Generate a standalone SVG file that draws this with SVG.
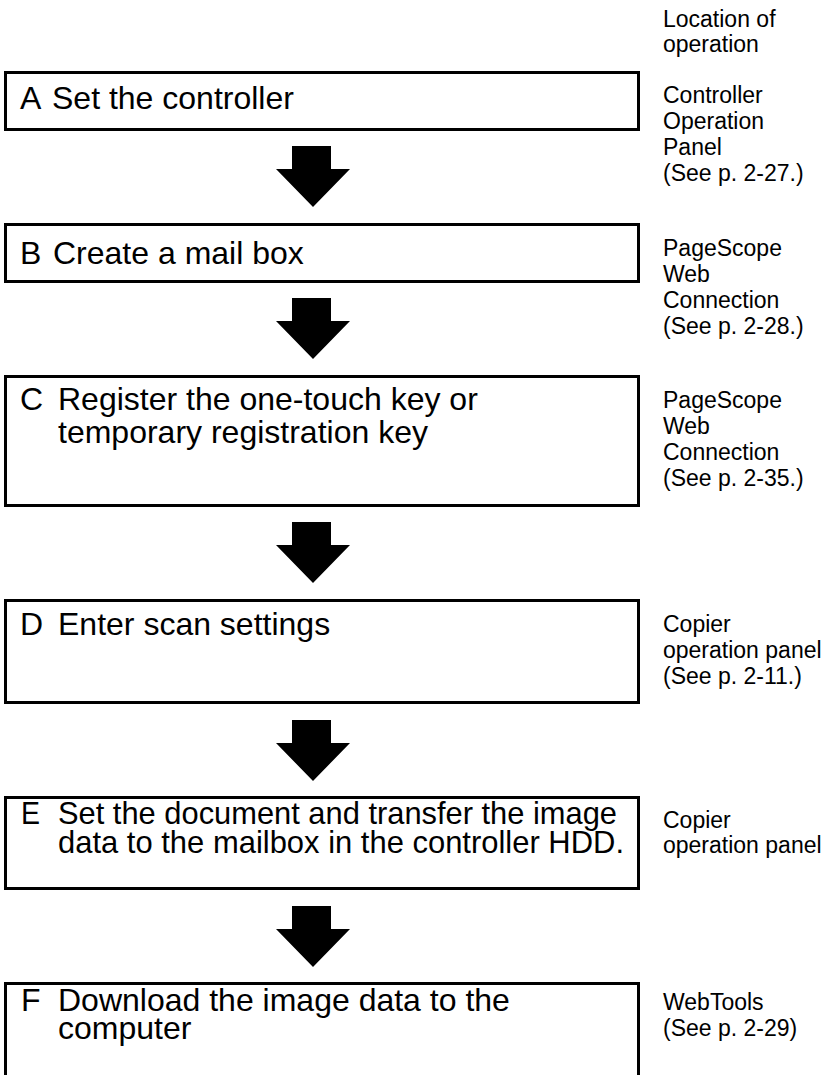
<svg xmlns="http://www.w3.org/2000/svg" width="826" height="1075" viewBox="0 0 826 1075">
<style>
.box{fill:#fff;stroke:#000;stroke-width:3}
.main{font-family:"Liberation Sans",Arial,sans-serif;font-size:32px;fill:#000}
.side{font-family:"Liberation Sans",Arial,sans-serif;font-size:23px;fill:#000}
.arrow{fill:#000}
</style>
<defs>
<path id="arr" d="M-21,0 H18 V23 H37 L0,61 L-37,23 H-21 Z"/>
</defs>
<rect width="826" height="1075" fill="#fff"/>
<g id="header">
<text class="side" x="663" y="27">Location of</text>
<text class="side" x="663" y="52">operation</text>
</g>
<g id="connectors">
<use href="#arr" class="arrow" x="313" y="146"/>
<use href="#arr" class="arrow" x="313" y="298"/>
<use href="#arr" class="arrow" x="313" y="522"/>
<use href="#arr" class="arrow" x="313" y="720"/>
<use href="#arr" class="arrow" x="313" y="906"/>
</g>
<g id="nodeA">
<rect class="box" x="5.5" y="72.5" width="633" height="57"/>
<text class="main" x="20" y="109">A</text>
<text class="main" x="52" y="109">Set the controller</text>
<text class="side" x="663" y="103">Controller</text>
<text class="side" x="663" y="129">Operation</text>
<text class="side" x="663" y="155">Panel</text>
<text class="side" x="663" y="181">(See p. 2-27.)</text>
</g>
<g id="nodeB">
<rect class="box" x="5.5" y="224.5" width="633" height="57"/>
<text class="main" x="20" y="264">B</text>
<text class="main" x="53" y="264">Create a mail box</text>
<text class="side" x="663" y="256">PageScope</text>
<text class="side" x="663" y="282">Web</text>
<text class="side" x="663" y="308">Connection</text>
<text class="side" x="663" y="334">(See p. 2-28.)</text>
</g>
<g id="nodeC">
<rect class="box" x="5.5" y="376.5" width="633" height="129"/>
<text class="main" x="20" y="410">C</text>
<text class="main" x="58" y="410">Register the one-touch key or</text>
<text class="main" x="58" y="443">temporary registration key</text>
<text class="side" x="663" y="408">PageScope</text>
<text class="side" x="663" y="434">Web</text>
<text class="side" x="663" y="460">Connection</text>
<text class="side" x="663" y="486">(See p. 2-35.)</text>
</g>
<g id="nodeD">
<rect class="box" x="5.5" y="600.5" width="633" height="102"/>
<text class="main" x="20" y="635">D</text>
<text class="main" x="58" y="635">Enter scan settings</text>
<text class="side" x="663" y="632">Copier</text>
<text class="side" x="663" y="658">operation panel</text>
<text class="side" x="663" y="684">(See p. 2-11.)</text>
</g>
<g id="nodeE">
<rect class="box" x="5.5" y="797.5" width="633" height="91"/>
<text class="main" x="21" y="824" textLength="19" lengthAdjust="spacingAndGlyphs">E</text>
<text class="main" x="58" y="824" textLength="559" lengthAdjust="spacingAndGlyphs">Set the document and transfer the image</text>
<text class="main" x="58" y="853" textLength="566" lengthAdjust="spacingAndGlyphs">data to the mailbox in the controller HDD.</text>
<text class="side" x="663" y="828">Copier</text>
<text class="side" x="663" y="853">operation panel</text>
</g>
<g id="nodeF">
<rect class="box" x="5.5" y="983.5" width="633" height="110"/>
<text class="main" x="21" y="1011">F</text>
<text class="main" x="58" y="1011">Download the image data to the</text>
<text class="main" x="58" y="1039">computer</text>
<text class="side" x="663" y="1010">WebTools</text>
<text class="side" x="663" y="1036">(See p. 2-29)</text>
</g>
</svg>
